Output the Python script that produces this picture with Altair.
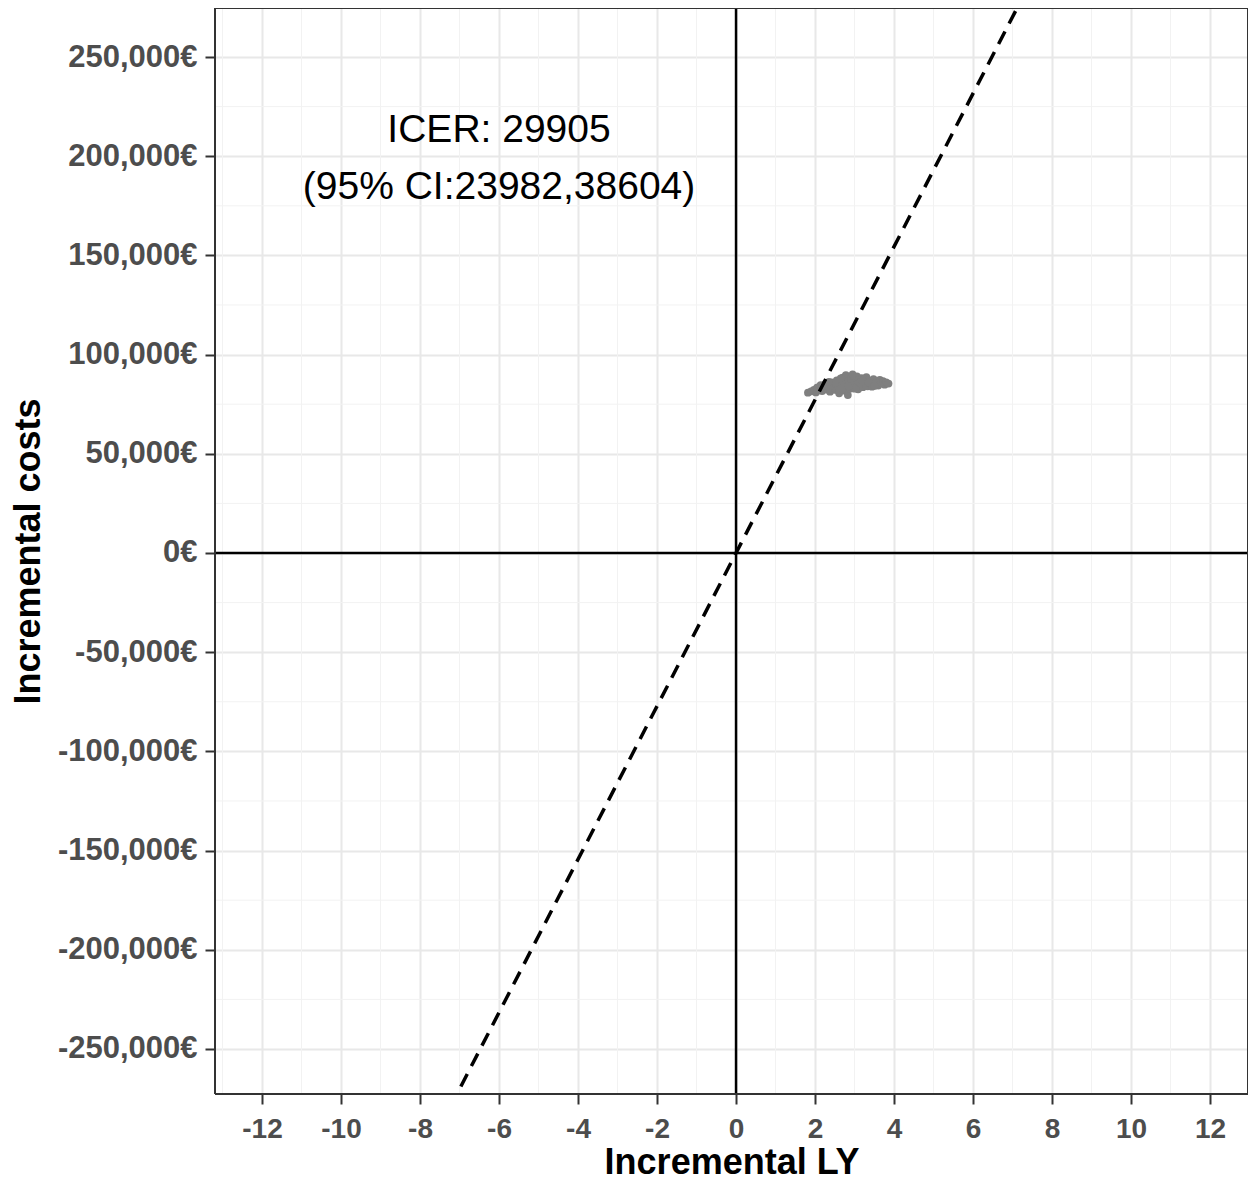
import altair as alt
import pandas as pd

# ---- data ----
pts_x = [1.82, 1.90, 1.97, 2.02, 2.05, 2.10, 2.14, 2.18, 2.22, 2.26, 2.30, 2.34, 2.38, 2.42, 2.45,
         2.48, 2.52, 2.55, 2.58, 2.61, 2.64, 2.67, 2.70, 2.72, 2.75, 2.78, 2.80, 2.83, 2.85, 2.88,
         2.91, 2.94, 2.97, 3.00, 3.03, 3.06, 3.09, 3.12, 3.15, 3.18, 3.21, 3.24, 3.27, 3.30, 3.33,
         3.36, 3.40, 3.44, 3.48, 3.52, 3.56, 3.60, 3.64, 3.68, 3.72, 3.76, 3.80, 3.86,
         2.40, 2.60, 2.90, 3.10, 2.50, 2.70, 3.00, 3.20, 2.95, 2.65, 2.35, 2.12, 2.85, 3.35, 3.50]
pts_y = [80800, 81500, 82200, 80900, 83400, 82000, 84600, 81600, 83000, 85200, 82400, 84000, 81300, 86000, 83500,
         85000, 82200, 87000, 84200, 80500, 86200, 83000, 88400, 85300, 81800, 89600, 84000, 79600, 86800, 82800,
         88000, 85000, 83200, 87300, 84400, 89000, 82500, 86000, 84800, 88200, 83600, 86800, 85200, 88600, 84000,
         87000, 85800, 83800, 87600, 85000, 86400, 84400, 87200, 85600, 86600, 84800, 86000, 85400,
         84500, 83000, 85500, 85500, 85800, 82500, 82800, 87000, 90000, 88000, 86300, 84000, 84000, 86000, 84200]

x_ticks = [-12, -10, -8, -6, -4, -2, 0, 2, 4, 6, 8, 10, 12]
y_ticks = [-250000, -200000, -150000, -100000, -50000, 0, 50000, 100000, 150000, 200000, 250000]
x_minor = [-13, -11, -9, -7, -5, -3, -1, 1, 3, 5, 7, 9, 11]
y_minor = [-275000, -225000, -175000, -125000, -75000, -25000, 25000, 75000, 125000, 175000, 225000, 275000]

x_domain = [-13.19, 12.96]
y_domain = [-272700, 274700]

threshold_slope = 38604
line_x = [-7.5, 7.5]
line_y = [threshold_slope * v for v in line_x]

annot_text = "ICER: 29905\n(95% CI:23982,38604)"
annot_x = -6
annot_y = 213000

FONT = "Liberation Sans"

xs = alt.Scale(domain=x_domain, nice=False, zero=False)
ys = alt.Scale(domain=y_domain, nice=False, zero=False)

minor_x = alt.Chart(pd.DataFrame({"x": x_minor})).mark_rule(color="#f2f2f2", strokeWidth=1).encode(
    x=alt.X("x:Q", scale=xs))
minor_y = alt.Chart(pd.DataFrame({"y": y_minor})).mark_rule(color="#f2f2f2", strokeWidth=1, clip=True).encode(
    y=alt.Y("y:Q", scale=ys))

points = alt.Chart(pd.DataFrame({"x": pts_x, "y": pts_y})).mark_circle(
    color="#7f7f7f", opacity=1, size=60).encode(
    x=alt.X("x:Q", scale=xs,
            axis=alt.Axis(values=x_ticks, title="Incremental LY",
                          labelExpr="(datum.value < 0 ? '-' : '') + format(abs(datum.value), 'd')",
                          grid=True, gridColor="#e8e8e8", gridWidth=2,
                          domain=False, tickSize=10, tickWidth=2, tickColor="#333333",
                          labelFont=FONT, labelFontSize=28, labelFontWeight="bold", labelColor="#4d4d4d",
                          labelPadding=11, titleFont=FONT, titleFontSize=36, titleFontWeight="bold",
                          titleColor="#000000", titlePadding=2, labelFlush=False)),
    y=alt.Y("y:Q", scale=ys,
            axis=alt.Axis(values=y_ticks, title="Incremental costs",
                          labelExpr="(datum.value < 0 ? '-' : '') + format(abs(datum.value), ',') + '€'",
                          grid=True, gridColor="#e8e8e8", gridWidth=2,
                          domain=False, tickSize=10, tickWidth=2, tickColor="#333333",
                          labelFont=FONT, labelFontSize=31, labelFontWeight="bold", labelColor="#4d4d4d",
                          labelPadding=8, titleFont=FONT, titleFontSize=36, titleFontWeight="bold",
                          titleColor="#000000", titlePadding=10, labelFlush=False)),
)

vline = alt.Chart(pd.DataFrame({"x": [0]})).mark_rule(color="black", strokeWidth=2.5).encode(
    x=alt.X("x:Q", scale=xs))
hline = alt.Chart(pd.DataFrame({"y": [0]})).mark_rule(color="black", strokeWidth=2.5).encode(
    y=alt.Y("y:Q", scale=ys))

# panel border drawn at the scale domain limits
border_v = alt.Chart(pd.DataFrame({"x": x_domain})).mark_rule(color="#333333", strokeWidth=2).encode(
    x=alt.X("x:Q", scale=xs))
border_h = alt.Chart(pd.DataFrame({"y": y_domain})).mark_rule(color="#333333", strokeWidth=2).encode(
    y=alt.Y("y:Q", scale=ys))

dline = alt.Chart(pd.DataFrame({"x": line_x, "y": line_y})).mark_line(
    color="black", strokeWidth=3.5, strokeDash=[14, 9], clip=True).encode(
    x=alt.X("x:Q", scale=xs), y=alt.Y("y:Q", scale=ys))

text = alt.Chart(pd.DataFrame({"x": [annot_x], "y": [annot_y], "t": [annot_text]})).mark_text(
    font=FONT, fontSize=39, color="black", align="center", baseline="middle",
    lineBreak="\n", lineHeight=57).encode(
    x=alt.X("x:Q", scale=xs), y=alt.Y("y:Q", scale=ys), text="t:N")

chart = alt.layer(minor_x, minor_y, points, vline, hline, dline, text, border_v, border_h).properties(
    width=1033, height=1086,
    autosize=alt.AutoSizeParams(type="none"),
    padding={"left": 207, "top": 0, "right": 0, "bottom": 87},
).configure_view(stroke=None).configure(background="white")

chart.save("out.html", embed_options={"renderer": "svg", "actions": False})
